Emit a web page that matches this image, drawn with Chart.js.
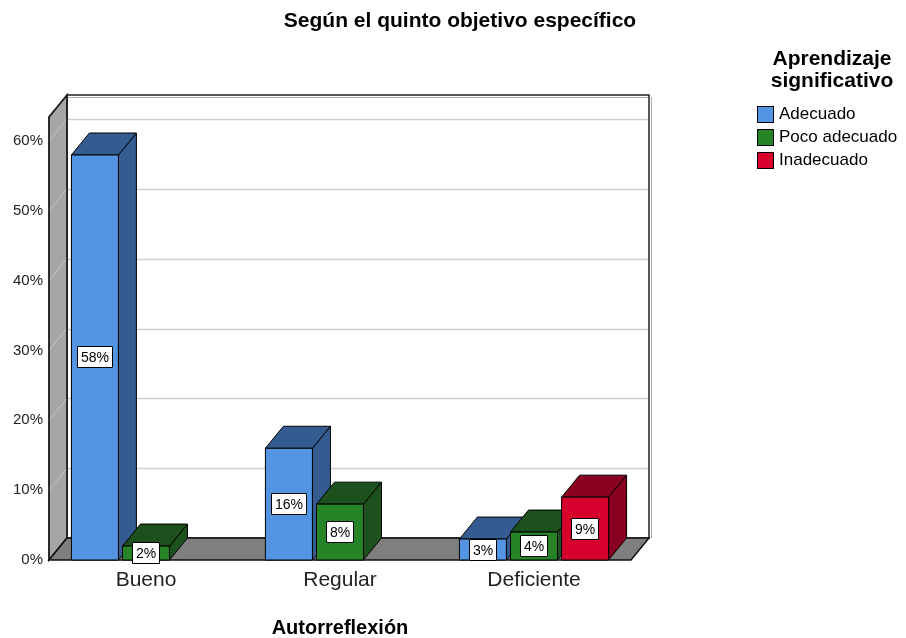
<!DOCTYPE html>
<html><head><meta charset="utf-8">
<script src="https://cdn.jsdelivr.net/npm/chart.js@4/dist/chart.umd.min.js"></script>
<style>
html,body{margin:0;padding:0;background:#fff;width:906px;height:638px;overflow:hidden;font-family:"Liberation Sans",Arial,sans-serif;color:#000;}
#wrap{position:relative;width:906px;height:638px;}
#c{position:absolute;left:0;top:0;}
#title{position:absolute;top:8px;left:460px;transform:translateX(-50%);font-weight:bold;font-size:21px;line-height:24px;white-space:nowrap;}
#legTitle{position:absolute;left:752px;width:160px;top:47px;text-align:center;font-weight:bold;font-size:21px;line-height:22px;}
.li{position:absolute;left:757px;height:22px;line-height:22px;font-size:17px;white-space:nowrap;}
.sw{position:absolute;left:0;top:3px;width:15px;height:15px;border:1px solid #000;}
.lt{position:absolute;left:22px;top:0;}
</style></head>
<body><div id="wrap">
<canvas id="c" width="906" height="638"></canvas>
<div id="title">Según el quinto objetivo específico</div>
<div id="legTitle">Aprendizaje<br>significativo</div>
<div id="legend"></div>
</div>
<script>
const categories = ['Bueno', 'Regular', 'Deficiente'];
const seriesNames = ['Adecuado', 'Poco adecuado', 'Inadecuado'];
const adecuado = [58, 16, 3];
const pocoAdecuado = [2, 8, 4];
const inadecuado = [0, 0, 9];
const yTicks = [0, 10, 20, 30, 40, 50, 60];
const frontColors = ['#5495e3', '#268326', '#d7002d'];
const darkColors = ['#355c91', '#1c501c', '#8a0020'];
const DX = 18, DY = -22;

// legend
const leg = document.getElementById('legend');
seriesNames.forEach((n, i) => {
  const d = document.createElement('div');
  d.className = 'li';
  d.style.top = (103 + 23 * i) + 'px';
  d.innerHTML = '<span class="sw" style="background:' + frontColors[i] + '"></span><span class="lt">' + n + '</span>';
  leg.appendChild(d);
});

function poly(ctx, pts, fill, stroke, lw) {
  ctx.beginPath();
  ctx.moveTo(pts[0][0], pts[0][1]);
  for (let i = 1; i < pts.length; i++) ctx.lineTo(pts[i][0], pts[i][1]);
  ctx.closePath();
  if (fill) { ctx.fillStyle = fill; ctx.fill(); }
  if (stroke) { ctx.strokeStyle = stroke; ctx.lineWidth = lw || 1; ctx.stroke(); }
}

const frame3d = {
  id: 'frame3d',
  beforeDatasetsDraw(chart) {
    const ctx = chart.ctx, a = chart.chartArea, y = chart.scales.y;
    const L = a.left, R = a.right, T = a.top, B = a.bottom;
    ctx.save();
    // back wall
    poly(ctx, [[L + DX, T + DY], [R + DX, T + DY], [R + DX, B + DY], [L + DX, B + DY]], '#ffffff', null);
    // back wall gridlines
    ctx.strokeStyle = '#cfcfcf'; ctx.lineWidth = 1.5;
    yTicks.forEach(v => {
      if (v === 0) return;
      const py = Math.round(y.getPixelForValue(v)) + DY + 0.5;
      ctx.beginPath(); ctx.moveTo(L + DX, py); ctx.lineTo(R + DX, py); ctx.stroke();
    });
    // back wall border with light shadow
    ctx.strokeStyle = '#b0b0b0'; ctx.lineWidth = 1;
    ctx.beginPath(); ctx.moveTo(R + DX + 2.5, T + DY + 2); ctx.lineTo(R + DX + 2.5, B + DY); ctx.stroke();
    ctx.beginPath(); ctx.moveTo(L + DX, T + DY + 2.5); ctx.lineTo(R + DX, T + DY + 2.5); ctx.stroke();
    poly(ctx, [[L + DX, T + DY], [R + DX, T + DY], [R + DX, B + DY], [L + DX, B + DY]], null, '#222', 1.5);
    // left wall
    poly(ctx, [[L, T], [L + DX, T + DY], [L + DX, B + DY], [L, B]], '#a6a6a6', '#222', 1.5);
    ctx.strokeStyle = '#c4c4c4'; ctx.lineWidth = 1;
    yTicks.forEach(v => {
      if (v === 0) return;
      const py = y.getPixelForValue(v);
      ctx.beginPath(); ctx.moveTo(L, py); ctx.lineTo(L + DX, py + DY); ctx.stroke();
    });
    poly(ctx, [[L, T], [L + DX, T + DY], [L + DX, B + DY], [L, B]], null, '#222', 1.5);
    // floor
    poly(ctx, [[L, B], [L + DX, B + DY], [R + DX, B + DY], [R, B]], '#7f7f7f', '#111', 1.5);
    ctx.restore();
  },
  afterDatasetsDraw(chart) {
    const ctx = chart.ctx;
    const metas = chart.data.datasets.map((d, i) => chart.getDatasetMeta(i));
    ctx.save();
    ctx.lineJoin = 'round';
    for (let j = 0; j < categories.length; j++) {
      for (let i = 0; i < metas.length; i++) {
        const val = chart.data.datasets[i].data[j];
        if (!val) continue;
        const bar = metas[i].data[j];
        const p = bar.getProps(['x', 'y', 'base', 'width'], true);
        const x1 = p.x - p.width / 2, x2 = p.x + p.width / 2, yt = p.y, yb = p.base;
        // side
        poly(ctx, [[x2, yt], [x2 + DX, yt + DY], [x2 + DX, yb + DY], [x2, yb]], darkColors[i], '#000', 1);
        // top
        poly(ctx, [[x1, yt], [x1 + DX, yt + DY], [x2 + DX, yt + DY], [x2, yt]], darkColors[i], '#000', 1);
        // front
        poly(ctx, [[x1, yt], [x2, yt], [x2, yb], [x1, yb]], frontColors[i], '#000', 1);
      }
    }
    // data labels
    ctx.font = '14px "Liberation Sans", Arial, sans-serif';
    ctx.textAlign = 'center'; ctx.textBaseline = 'middle';
    for (let j = 0; j < categories.length; j++) {
      for (let i = 0; i < metas.length; i++) {
        const val = chart.data.datasets[i].data[j];
        if (!val) continue;
        const bar = metas[i].data[j];
        const p = bar.getProps(['x', 'y', 'base'], true);
        const txt = val + '%';
        const w = Math.round(ctx.measureText(txt).width) + 8, h = 22;
        const cx = Math.round(p.x), cy = Math.round((p.y + p.base) / 2);
        ctx.fillStyle = '#fff';
        ctx.fillRect(cx - w / 2, cy - h / 2, w, h);
        ctx.strokeStyle = '#000'; ctx.lineWidth = 1;
        ctx.strokeRect(cx - w / 2 + 0.5, cy - h / 2 + 0.5, w - 1, h - 1);
        ctx.fillStyle = '#000';
        ctx.fillText(txt, cx, cy + 1);
      }
    }
    ctx.restore();
  }
};

new Chart(document.getElementById('c'), {
  type: 'bar',
  data: {
    labels: categories,
    datasets: [
      { label: seriesNames[0], data: adecuado, backgroundColor: frontColors[0], borderWidth: 0 },
      { label: seriesNames[1], data: pocoAdecuado, backgroundColor: frontColors[1], borderWidth: 0 },
      { label: seriesNames[2], data: inadecuado, backgroundColor: frontColors[2], borderWidth: 0 }
    ]
  },
  options: {
    responsive: false,
    animation: false,
    devicePixelRatio: 1,
    categoryPercentage: 0.79,
    barPercentage: 0.92,
    layout: { padding: { top: 117, right: 275, left: 0, bottom: 0 } },
    plugins: { legend: { display: false }, tooltip: { enabled: false }, title: { display: false } },
    scales: {
      x: {
        grid: { display: false, drawTicks: false },
        border: { display: false },
        ticks: { color: '#222', font: { family: '"Liberation Sans", Arial, sans-serif', size: 21 }, padding: 8 },
        title: { display: true, text: 'Autorreflexión', color: '#000', font: { family: '"Liberation Sans", Arial, sans-serif', size: 20, weight: 'bold', lineHeight: 1 }, padding: { top: 0, bottom: 0 } },
        afterFit(s) { s.height = 78; }
      },
      y: {
        min: 0,
        max: 63.44,
        grid: { display: false, drawTicks: false },
        border: { display: false },
        afterBuildTicks(s) { s.ticks = yTicks.map(v => ({ value: v })); },
        ticks: { color: '#222', font: { family: '"Liberation Sans", Arial, sans-serif', size: 15 }, padding: 6, callback: v => v + '%' },
        afterFit(s) { s.width = 49; }
      }
    }
  },
  plugins: [frame3d]
});
</script>
</body></html>
